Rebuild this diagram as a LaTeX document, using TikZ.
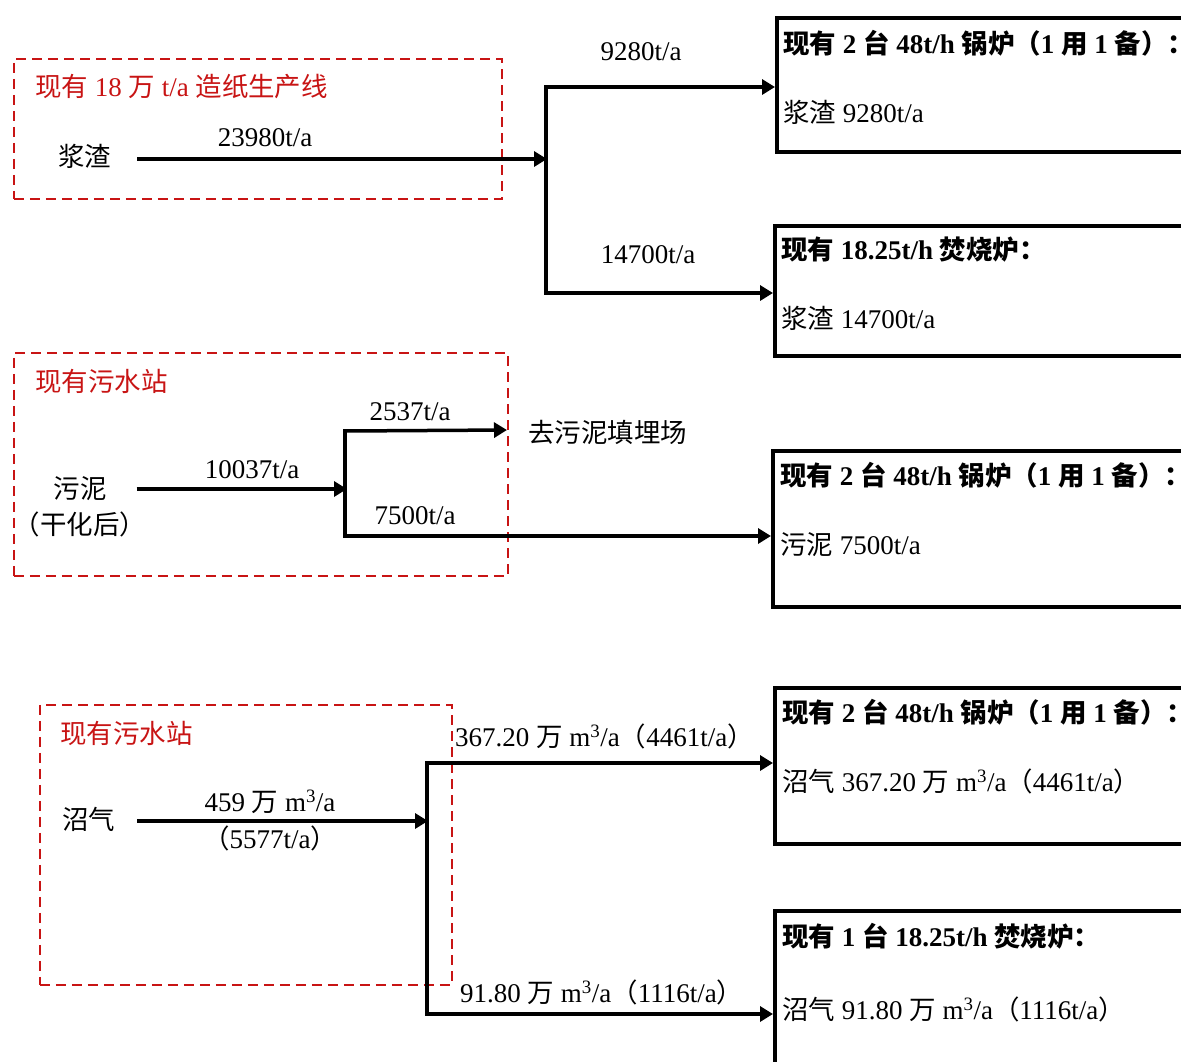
\documentclass[tikz,border=0pt]{standalone}
\usepackage{fontspec}
\setmainfont{Liberation Serif}
\newfontfamily\cjk[Scale=0.98]{Noto Sans CJK SC}
\usetikzlibrary{arrows.meta}
\definecolor{dred}{RGB}{200,20,20}
\newcommand\zh[1]{{\cjk #1}}
\newcommand\msup{m\textsuperscript{3}}
\begin{document}
\begin{tikzpicture}[x=1pt,y=-1pt,
  font=\fontsize{27}{32}\selectfont,
  box/.style={draw, line width=3.5pt, anchor=north west, minimum width=440pt, inner sep=0pt},
  grp/.style={draw=dred, line width=1.6pt, dash pattern=on 10pt off 6pt, anchor=north west, inner sep=0pt},
  flow/.style={line width=3.5pt, -{Triangle[length=13pt,width=15pt]}},
  trunk/.style={line width=3.5pt, line cap=rect},
  lbl/.style={inner sep=0pt, anchor=west},
  hdr/.style={inner sep=0pt, anchor=west, font=\fontsize{27}{32}\selectfont\bfseries},
  num/.style={inner sep=0pt},
  ttl/.style={inner sep=0pt, anchor=west, text=dred}]
\useasboundingbox (0,0) rectangle (1181,1061);
\clip (0,0) rectangle (1181,1061);
\fill[white] (0,0) rectangle (1181,1061);

% ---------- block 1 ----------
\node[grp, minimum width=488pt, minimum height=140pt] (g1) at (13,58) {};
\node[ttl] (t1) at (35,87) {\zh{现有} 18 \zh{万} t/a \zh{造纸生产线}};
\node[lbl] (s1) at (58,156) {\zh{浆渣}};
\node[num] (l1) at (265,138) {23980t/a};
\node[box, minimum height=134pt] (A) at (775,16) {};
\node[box, minimum height=130pt] (B) at (773,224) {};
\coordinate (j1) at (547,159);
\coordinate (j1a) at (546,87);
\coordinate (j1b) at (546,293);
\draw[flow] ([xshift=26pt]s1.east |- j1) -- (j1);
\draw[trunk] (j1a) -- (j1b);
\draw[flow] (j1a) -- (j1a -| A.west);
\draw[flow] (j1b) -- (j1b -| B.west);
\node[num] (l2) at (641,52) {9280t/a};
\node[num] (l3) at (648,255) {14700t/a};
\node[hdr] (Ah) at (783,43) {\zh{现有} 2 \zh{台} 48t/h \zh{锅炉（}1 \zh{用} 1 \zh{备）：}};
\node[lbl] (Ab) at (783,112) {\zh{浆渣} 9280t/a};
\node[hdr] (Bh) at (781,250) {\zh{现有} 18.25t/h \zh{焚烧炉：}};
\node[lbl] (Bb) at (781,318) {\zh{浆渣} 14700t/a};

% ---------- block 2 ----------
\node[grp, minimum width=494pt, minimum height=223pt] (g2) at (13,352) {};
\node[ttl] (t2) at (35,381) {\zh{现有污水站}};
\node[num] (s2) at (80,489) {\zh{污泥}};
\node[num] (s2b) at (80,524) {\zh{（干化后）}};
\node[box, minimum height=156pt] (C) at (771,449) {};
\coordinate (j2) at (347,489);
\coordinate (j2a) at (345,431);
\coordinate (j2b) at (345,536);
\coordinate (dump) at (507,430);
\draw[flow] ([xshift=30pt]s2.east |- j2) -- (j2);
\draw[trunk] (j2a) -- (j2b);
\draw[flow] (j2a) -- (dump);
\draw[flow] (j2b) -- (j2b -| C.west);
\node[num] (l4) at (252,470) {10037t/a};
\node[num] (l5) at (410,412) {2537t/a};
\node[num] (l6) at (415,516) {7500t/a};
\node[lbl] (d1) at (528,432) {\zh{去污泥填埋场}};
\node[hdr] (Ch) at (780,475) {\zh{现有} 2 \zh{台} 48t/h \zh{锅炉（}1 \zh{用} 1 \zh{备）：}};
\node[lbl] (Cb) at (780,545) {\zh{污泥} 7500t/a};

% ---------- block 3 ----------
\node[grp, minimum width=412pt, minimum height=280pt] (g3) at (39,704) {};
\node[ttl] (t3) at (60,733) {\zh{现有污水站}};
\node[lbl] (s3) at (62,819) {\zh{沼气}};
\node[box, minimum height=156pt] (D) at (773,686) {};
\node[box, minimum height=170pt] (E) at (773,909) {};
\coordinate (j3) at (428,821);
\coordinate (j3a) at (427,763);
\coordinate (j3b) at (427,1014);
\draw[flow] ([xshift=22pt]s3.east |- j3) -- (j3);
\draw[trunk] (j3a) -- (j3b);
\draw[flow] (j3a) -- (j3a -| D.west);
\draw[flow] (j3b) -- (j3b -| E.west);
\node[num] (l7) at (270,802) {459 \zh{万} \msup/a};
\node[num] (l8) at (270,838) {\zh{（}5577t/a\zh{）}};
\node[lbl] (l9) at (455,736) {367.20 \zh{万} \msup/a\zh{（}4461t/a\zh{）}};
\node[lbl] (l10) at (460,992) {91.80 \zh{万} \msup/a\zh{（}1116t/a\zh{）}};
\node[hdr] (Dh) at (782,712) {\zh{现有} 2 \zh{台} 48t/h \zh{锅炉（}1 \zh{用} 1 \zh{备）：}};
\node[lbl] (Db) at (782,781) {\zh{沼气} 367.20 \zh{万} \msup/a\zh{（}4461t/a\zh{）}};
\node[hdr] (Eh) at (782,936) {\zh{现有} 1 \zh{台} 18.25t/h \zh{焚烧炉：}};
\node[lbl] (Eb) at (782,1009) {\zh{沼气} 91.80 \zh{万} \msup/a\zh{（}1116t/a\zh{）}};
\end{tikzpicture}
\end{document}
